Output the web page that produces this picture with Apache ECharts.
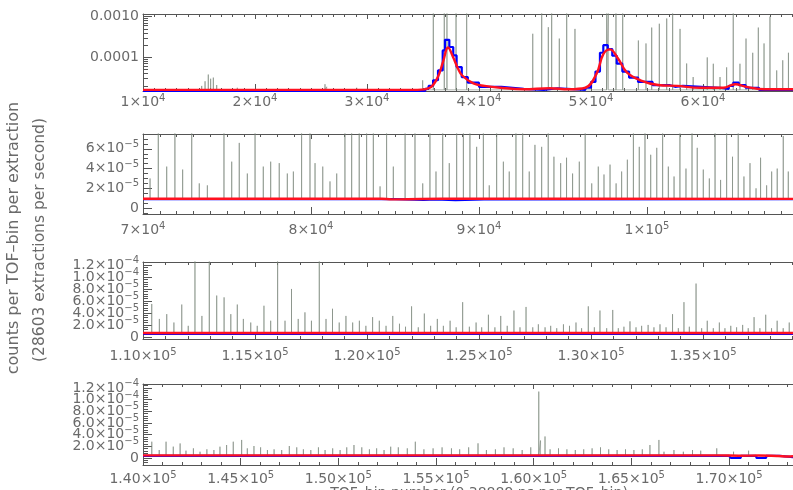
<!DOCTYPE html>
<html>
<head>
<meta charset="utf-8">
<script src="https://cdn.jsdelivr.net/npm/echarts@6/dist/echarts.min.js"></script>
<style>
  html, body { margin: 0; padding: 0; background: #fff; }
  #chart { width: 793px; height: 490px; }
</style>
</head>
<body>
<div id="chart"></div>
<script>
// ---- panel 1 : TOF bins 1e4 .. (cropped) (log y) ----
var spikeX1 = [15240,15540,15830,16040,16280,16580,18420,18970,26250,26400,29080,34970,35920,36900,37140,37950,38900,44800,45600,46190,46490,47170,47830,48570,51400,51550,52230,52830,54230,54910,55420,56100,56760,57290,57950,58540,59120,60380,60920,61520,62110,62700,63300,63840,64440,64940,65450,65980,66580,67120,67630];
var spikeY1 = [2.0e-5,2.6e-5,3.8e-5,3.0e-5,3.2e-5,2.1e-5,1.8e-5,1.7e-5,2.2e-5,1.9e-5,1.8e-5,2.75e-5,2e-3,2e-3,2e-3,2e-3,2e-3,3.8e-4,2e-3,5.5e-4,2e-3,2.9e-4,2e-3,5e-4,2e-3,2e-3,2e-3,2e-3,2.6e-4,2.2e-4,5.4e-4,6.7e-4,9e-4,2e-3,5e-4,7.1e-5,3.3e-5,1e-4,7e-5,3.3e-5,5.7e-5,2e-3,7e-5,2.9e-4,1.3e-4,5.4e-4,2.2e-4,1e-3,4.8e-5,8.5e-5,1.3e-4];
var blueX1 = [10000,35200,35500,35900,36340,36760,36960,37350,37700,38000,38460,39000,40000,42000,44000,45800,47000,49500,50000,50400,50800,51100,51500,51900,52300,52800,53400,54200,55500,57000,57500,58200,61500,62300,62700,63200,63800,65000,70000];
var blueY1 = [1.5e-5,1.7e-5,2.0e-5,2.75e-5,4.8e-5,1.48e-4,2.7e-4,1.8e-4,1.12e-4,5.8e-5,3.3e-5,2.4e-5,1.9e-5,1.7e-5,1.6e-5,1.75e-5,1.6e-5,1.8e-5,2.5e-5,4.5e-5,1.3e-4,2.0e-4,1.6e-4,1.1e-4,7e-5,4.5e-5,3.2e-5,2.5e-5,2.1e-5,1.9e-5,2.0e-5,1.8e-5,1.7e-5,2.0e-5,2.4e-5,2.1e-5,1.8e-5,1.6e-5,1.6e-5];
var redX1 = [10000,34500,35600,36300,36800,37230,37700,38100,38500,39500,40500,41900,44000,46300,48000,49500,50500,51100,51700,52400,53200,54400,56000,57700,59700,61800,62860,63900,65500,70000];
var redY1 = [1.6e-5,1.6e-5,1.8e-5,3.2e-5,8e-5,1.75e-4,1.0e-4,5.5e-5,3.6e-5,2.3e-5,2.0e-5,1.8e-5,1.65e-5,1.75e-5,1.65e-5,1.8e-5,4e-5,1.2e-4,1.57e-4,9.5e-5,4.3e-5,2.75e-5,2.1e-5,2.0e-5,1.8e-5,1.8e-5,2.2e-5,1.9e-5,1.65e-5,1.65e-5];

// ---- panel 2 : 7e4 .. ----
var spikeX2 = [70420,70910,71410,71900,72360,72900,73350,73830,74820,75280,75730,76210,76670,77160,77600,78110,78590,78950,79440,79940,80240,80700,81130,81530,82020,82420,82870,83310,83710,84110,84500,84900,85600,86190,86650,87080,87440,87840,88230,88670,89070,89460,89860,90260,90610,91050,91450,91800,92200,92600,92990,93330,93730,94120,94460,94860,95210,95570,95970,96320,96710,97100,97440,97800,98160,98490,98830,99190,99540,99880,100220,100580,100930,101270,101610,101960,102320,102680,102990,103350,103710,104050,104380,104740,105090,105430,105770,106130,106490,106760,107120,107420,107750,108110,108410];
var spikeY2 = [3.0e-5,9e-5,4.2e-5,9e-5,3.9e-5,9e-5,2.5e-5,2.3e-5,9e-5,4.7e-5,6.6e-5,3.5e-5,9e-5,4.2e-5,4.7e-5,4.55e-5,3.5e-5,3.7e-5,9e-5,9e-5,4.55e-5,4.2e-5,2.7e-5,3.5e-5,9e-5,9e-5,9e-5,9e-5,9e-5,2.2e-5,9e-5,4.2e-5,9e-5,9e-5,2.5e-5,9e-5,3.7e-5,9e-5,4.55e-5,9e-5,9e-5,9e-5,6.2e-5,9e-5,2.3e-5,9e-5,4.7e-5,3.7e-5,9e-5,9e-5,3.7e-5,6.4e-5,6.2e-5,9e-5,5.2e-5,4.55e-5,5.1e-5,3.5e-5,4.7e-5,9e-5,2.5e-5,4.2e-5,3.4e-5,4.4e-5,2.5e-5,3.7e-5,4.9e-5,9e-5,6.2e-5,9e-5,5.4e-5,6.1e-5,9e-5,4.2e-5,3.2e-5,9e-5,4.0e-5,9e-5,6.1e-5,3.9e-5,3.0e-5,9e-5,2.85e-5,9e-5,5.2e-5,9e-5,3.2e-5,4.55e-5,2.0e-5,5.1e-5,2.3e-5,3.7e-5,4.0e-5,7.3e-5,3.7e-5];
var blueX2 = [70000,84500,85000,86700,87400,88600,90300,110000];
var blueY2 = [0.9e-5,0.9e-5,0.82e-5,0.88e-5,0.8e-5,0.88e-5,0.9e-5,0.9e-5];
var redX2 = [70000,84200,84800,86500,89000,110000];
var redY2 = [0.95e-5,0.95e-5,0.88e-5,0.92e-5,0.95e-5,0.93e-5];

// ---- panel 3 : 1.1e5 .. ----
var spikeX3 = [110390,110730,111060,111380,111730,112020,112320,112630,112960,113290,113620,113920,114210,114480,114810,115100,115400,115700,116010,116340,116630,116930,117230,117520,117870,118170,118460,118760,119060,119360,119660,119950,120250,120550,120850,121150,121450,121720,121990,122290,122560,122840,123140,123410,123710,123980,124270,124570,124870,125120,125420,125710,125970,126260,126560,126830,127100,127400,127650,127950,128200,128470,128770,129040,129330,129580,129880,130150,130400,130700,130970,131220,131470,131740,132010,132260,132550,132810,133080,133350,133640,133900,134150,134390,134690,134940,135190,135460,135730,135980,136240,136500,136770,137020,137280,137540,137800,138060,138310,138580,138850];
var spikeY3 = [5.5e-5,3.0e-5,3.8e-5,2.4e-5,5.4e-5,1.85e-5,1.5e-4,3.5e-5,1.5e-4,6.9e-5,6.6e-5,3.8e-5,5.4e-5,3.0e-5,2.4e-5,1.85e-5,5.2e-5,2.7e-5,1.5e-4,2.7e-5,8.0e-5,3.0e-5,4.1e-5,2.7e-5,1.5e-4,3.0e-5,4.7e-5,2.4e-5,3.5e-5,2.4e-5,2.7e-5,1.85e-5,3.3e-5,2.7e-5,1.85e-5,3.5e-5,2.2e-5,1.7e-5,5.1e-5,1.6e-5,3.9e-5,1.85e-5,3.0e-5,1.85e-5,2.7e-5,1.6e-5,5.8e-5,1.7e-5,2.4e-5,1.6e-5,3.7e-5,1.6e-5,3.5e-5,1.85e-5,4.4e-5,1.6e-5,5.0e-5,1.6e-5,2.1e-5,1.6e-5,1.85e-5,1.45e-5,2.1e-5,1.85e-5,2.4e-5,1.45e-5,5.1e-5,1.6e-5,4.4e-5,1.45e-5,4.5e-5,1.45e-5,1.7e-5,2.6e-5,1.6e-5,1.85e-5,2.0e-5,1.6e-5,2.1e-5,1.6e-5,3.8e-5,1.45e-5,5.8e-5,1.7e-5,8.9e-5,1.45e-5,2.7e-5,1.45e-5,2.4e-5,1.45e-5,1.85e-5,1.6e-5,2.0e-5,1.45e-5,3.3e-5,1.45e-5,3.7e-5,1.45e-5,2.7e-5,1.45e-5,2.4e-5];
var blueX3 = [110000,140000];
var blueY3 = [0.5e-5,0.5e-5];
var redX3 = [110000,140000];
var redY3 = [0.65e-5,0.65e-5];

// ---- panel 4 : 1.4e5 .. ----
var spikeX4 = [140450,140830,141180,141550,141900,142200,142580,142920,143270,143630,143940,144280,144620,145050,145340,145680,146020,146370,146710,147100,147490,147870,148210,148590,148980,149320,149710,150090,150430,150800,151200,151590,151960,152340,152680,153070,153530,153940,154380,154850,155310,155790,156210,156670,157150,157580,158040,158480,158950,159410,159850,160260,160350,160580,160840,161270,161700,162130,162560,162990,163420,163840,164270,164700,165130,165560,165950,166410,166670,167180,167660,168130,168550,169370,170230,171000];
var spikeY4 = [2.8e-5,1.37e-5,2.8e-5,1.95e-5,2.5e-5,1.26e-5,1.66e-5,1.08e-5,1.49e-5,1.37e-5,1.94e-5,2.23e-5,2.8e-5,3.1e-5,1.66e-5,2.06e-5,1.83e-5,1.37e-5,1.49e-5,1.37e-5,2.06e-5,1.83e-5,1.49e-5,1.37e-5,1.83e-5,1.37e-5,1.66e-5,1.37e-5,1.83e-5,2.23e-5,1.83e-5,1.49e-5,1.66e-5,1.37e-5,1.94e-5,1.83e-5,1.66e-5,2.8e-5,1.49e-5,1.66e-5,1.83e-5,1.66e-5,1.49e-5,1.83e-5,2.52e-5,1.37e-5,1.49e-5,1.83e-5,1.66e-5,1.37e-5,1.83e-5,1.14e-4,3.0e-5,3.7e-5,1.49e-5,1.66e-5,1.49e-5,1.37e-5,1.49e-5,1.66e-5,1.83e-5,1.49e-5,1.37e-5,1.49e-5,1.37e-5,1.49e-5,2.23e-5,3.1e-5,1.08e-5,1.37e-5,1.08e-5,1.37e-5,1.26e-5,1.66e-5,1.08e-5,1.26e-5];
var blueX4 = [140000,170000,170100,170600,171400,171900,172600,173300,174400];
var blueY4 = [0.35e-5,0.35e-5,0.0,0.35e-5,0.0,0.35e-5,0.15e-5,0.15e-5,0.3e-5];
var redX4 = [140000,169500,170500,171500,172500,173000,173600,174400];
var redY4 = [0.45e-5,0.45e-5,0.4e-5,0.42e-5,0.35e-5,0.25e-5,0.38e-5,0.4e-5];

// axis ranges (right end is where the picture is cropped)
var xMin = [10000, 70000, 110000, 140000];
var xMax = [68036, 108690, 139018, 173274];
var xStep = [10000, 10000, 5000, 5000];
var yMin = [1.5e-5, -6e-6, -3.5e-6, -1.2e-5];
var yMax = [1.16e-3, 7.5e-5, 1.25e-4, 1.27e-4];
var ySplit = [5, 4, 6, 7];

var gridTop = [14, 134, 262, 384];
var gridHeight = [77, 80, 77, 81];
var labelMargin = [2, 7, 8, 5];

var axisColor = "#555";
var textColor = "#6a6a6a";
var font = "DejaVu Sans";

function pairs(xs, ys) {
  var d = [];
  for (var i = 0; i < xs.length; i++) d.push([xs[i], ys[i]]);
  return d;
}
// vertical gray lines from baseline up to each peak value
function spikes(xs, ys, base) {
  var d = [];
  for (var i = 0; i < xs.length; i++) {
    d.push([xs[i], base], [xs[i], ys[i]], [xs[i], base]);
  }
  return d;
}

var rich = {
  b: { fontSize: 14, color: textColor, fontFamily: font },
  s: { fontSize: 10, color: textColor, fontFamily: font, padding: [0, 0, 9, 0] }
};

function xLabel(p) {
  return function (v) {
    if (p < 2) {
      var e = Math.floor(Math.log10(v) + 1e-9);
      return "{b|" + Math.round(v / Math.pow(10, e)) + "×10}{s|" + e + "}";
    }
    return "{b|" + (v / 1e5).toFixed(2) + "×10}{s|5}";
  };
}
function yLabel(p) {
  return function (v) {
    if (p === 0) return v.toFixed(4);
    if (Math.abs(v) < 1e-12) return "{b|0}";
    var e = Math.floor(Math.log10(Math.abs(v)) + 1e-9);
    var m = v / Math.pow(10, e);
    var ms = p === 1 ? Math.round(m).toString() : m.toFixed(1);
    return "{b|" + ms + "×10}{s|−" + (-e) + "}";
  };
}

var grids = [], xAxes = [], yAxes = [], series = [];
for (var p = 0; p < 4; p++) {
  grids.push({ left: 143, right: 0, top: gridTop[p], height: gridHeight[p] });
  xAxes.push({
    type: "value", gridIndex: p, position: "bottom",
    min: xMin[p], max: xMax[p], interval: xStep[p],
    axisLine: { show: true, onZero: false, lineStyle: { color: axisColor, width: 1 } },
    axisTick: { inside: true, length: 7, lineStyle: { color: axisColor } },
    minorTick: { show: true, splitNumber: xStep[p] === 10000 ? 10 : 5, length: 3, lineStyle: { color: axisColor } },
    splitLine: { show: false },
    axisLabel: { formatter: xLabel(p), rich: rich, margin: labelMargin[p], showMaxLabel: false, hideOverlap: false }
  });
  yAxes.push({
    type: p === 0 ? "log" : "value", gridIndex: p,
    min: yMin[p], max: yMax[p], splitNumber: ySplit[p],
    axisLine: { show: true, onZero: false, lineStyle: { color: axisColor, width: 1 } },
    axisTick: { inside: true, length: 9, lineStyle: { color: axisColor } },
    minorTick: { show: true, splitNumber: p === 0 ? 9 : (p === 1 ? 4 : 5), length: 5, lineStyle: { color: axisColor } },
    splitLine: { show: false },
    axisLabel: {
      formatter: yLabel(p), rich: rich, margin: 4,
      color: textColor, fontSize: 14, fontFamily: font,
      showMinLabel: false, showMaxLabel: false, hideOverlap: false
    }
  });
}
// top frame axes (ticks only)
for (var q = 0; q < 4; q++) {
  xAxes.push({
    type: "value", gridIndex: q, position: "top",
    min: xMin[q], max: xMax[q], interval: xStep[q],
    axisLine: { show: true, onZero: false, lineStyle: { color: axisColor, width: 1 } },
    axisTick: { inside: true, length: 5, lineStyle: { color: axisColor } },
    minorTick: { show: true, splitNumber: xStep[q] === 10000 ? 10 : 5, length: 3, lineStyle: { color: axisColor } },
    splitLine: { show: false },
    axisLabel: { show: false }
  });
}

var spikeSets = [[spikeX1, spikeY1, 1.6e-5], [spikeX2, spikeY2, 0.95e-5], [spikeX3, spikeY3, 0.65e-5], [spikeX4, spikeY4, 0.45e-5]];
var blueSets = [[blueX1, blueY1], [blueX2, blueY2], [blueX3, blueY3], [blueX4, blueY4]];
var redSets = [[redX1, redY1], [redX2, redY2], [redX3, redY3], [redX4, redY4]];

for (var k = 0; k < 4; k++) {
  series.push({
    type: "line", xAxisIndex: k, yAxisIndex: k, silent: true,
    symbol: "none", animation: false,
    lineStyle: { color: "rgba(120,132,120,0.6)", width: 1 },
    data: spikes(spikeSets[k][0], spikeSets[k][1], spikeSets[k][2])
  });
  series.push({
    type: "line", xAxisIndex: k, yAxisIndex: k, step: "end",
    symbol: "none", animation: false,
    lineStyle: { color: "#0000ff", width: 2.2 },
    data: pairs(blueSets[k][0], blueSets[k][1])
  });
  series.push({
    type: "line", xAxisIndex: k, yAxisIndex: k, smooth: 0.4,
    symbol: "none", animation: false,
    lineStyle: { color: "#ff1020", width: 2.4 },
    data: pairs(redSets[k][0], redSets[k][1])
  });
}

var chart = echarts.init(document.getElementById("chart"), null, { renderer: "canvas" });
chart.setOption({
  backgroundColor: "#fff",
  animation: false,
  grid: grids,
  xAxis: xAxes,
  yAxis: yAxes,
  series: series,
  graphic: [
    {
      type: "text", x: 14, y: 238, rotation: Math.PI / 2,
      style: { text: "counts per TOF–bin per extraction", fill: textColor, font: "16px 'DejaVu Sans'", align: "center", verticalAlign: "middle" }
    },
    {
      type: "text", x: 40, y: 240, rotation: Math.PI / 2,
      style: { text: "(28603 extractions per second)", fill: textColor, font: "15.5px 'DejaVu Sans'", align: "center", verticalAlign: "middle" }
    },
    {
      type: "text", x: 479, y: 486,
      style: { text: "TOF–bin number (0.38889 ns per TOF–bin)", fill: textColor, font: "14px 'DejaVu Sans'", align: "center", verticalAlign: "top" }
    }
  ]
});
window.onresize = function () { chart.resize(); };
</script>
</body>
</html>
